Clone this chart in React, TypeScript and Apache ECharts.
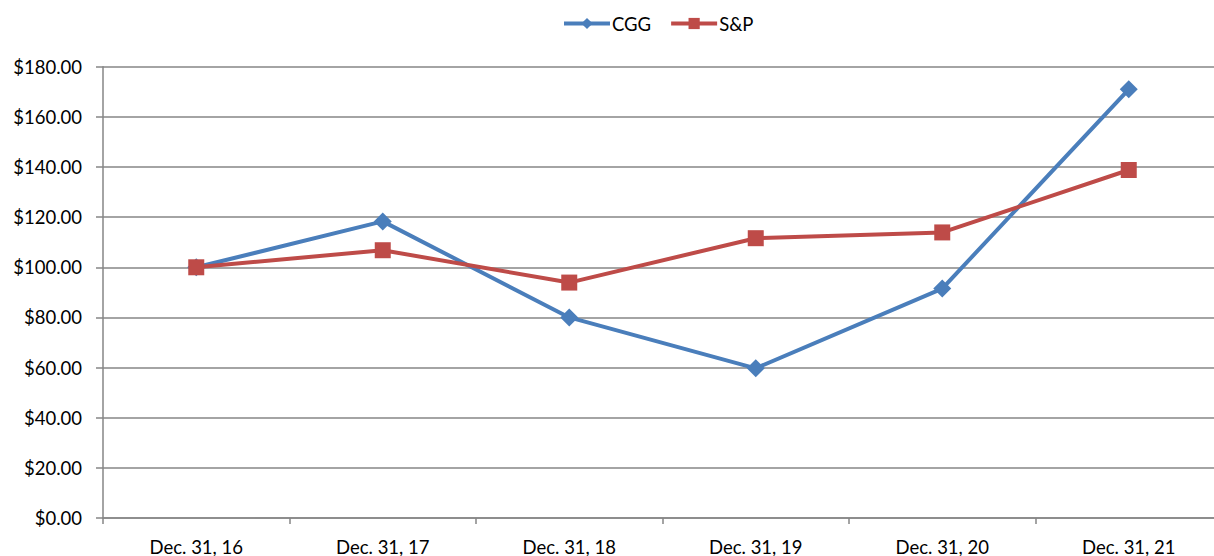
import React, { useEffect, useRef } from "react";
import * as echarts from "echarts";

const categories = ["Dec. 31, 16", "Dec. 31, 17", "Dec. 31, 18", "Dec. 31, 19", "Dec. 31, 20", "Dec. 31, 21"];
const cggValues = [100, 118.3, 80, 59.7, 91.5, 171];
const spValues = [100, 106.8, 93.9, 111.6, 113.9, 138.8];
const yMin = 0;
const yMax = 180;
const yInterval = 20;

const FONT = "Lato, 'Open Sans', sans-serif";

export default function App() {
  const ref = useRef<HTMLDivElement>(null);
  useEffect(() => {
    if (!ref.current) return;
    const chart = echarts.init(ref.current, undefined, { renderer: "svg" });
    chart.setOption({
      animation: false,
      backgroundColor: "#ffffff",
      textStyle: { fontFamily: FONT },
      legend: {
        top: 14,
        left: 562,
        padding: 0,
        itemWidth: 46,
        itemHeight: 14,
        itemGap: 18,
        lineStyle: { width: 4 },
        textStyle: { fontSize: 18.5, color: "#000000", fontFamily: FONT, padding: [0, 0, 0, -3] },
        data: ["CGG", "S&P"],
      },
      grid: { left: 103, width: 1119, top: 66.7, bottom: 38, outerBoundsMode: "none", containLabel: false },
      xAxis: {
        type: "category",
        data: categories,
        boundaryGap: true,
        axisLine: { lineStyle: { color: "#868686", width: 1.5 } },
        axisTick: { show: true, length: 6, lineStyle: { color: "#868686", width: 1.5 } },
        axisLabel: { fontSize: 18.5, color: "#000000", margin: 19, fontFamily: FONT },
      },
      yAxis: {
        type: "value",
        min: yMin,
        max: yMax,
        interval: yInterval,
        axisLine: { show: true, lineStyle: { color: "#868686", width: 1.5 } },
        axisTick: { show: true, length: 7, lineStyle: { color: "#868686", width: 1.5 } },
        splitLine: { lineStyle: { color: "#868686", width: 1.5 } },
        axisLabel: {
          fontSize: 18.5,
          color: "#000000",
          margin: 21,
          fontFamily: FONT,
          formatter: (v: number) => "$" + v.toFixed(2),
        },
      },
      series: [
        {
          name: "CGG",
          type: "line",
          data: cggValues,
          symbol: "diamond",
          symbolSize: 18,
          lineStyle: { color: "#4A7EBB", width: 4 },
          itemStyle: { color: "#4A7EBB" },
          z: 3,
        },
        {
          name: "S&P",
          type: "line",
          data: spValues,
          symbol: "rect",
          symbolSize: 16,
          lineStyle: { color: "#BE4B48", width: 4 },
          itemStyle: { color: "#BE4B48" },
          z: 4,
        },
      ],
    });
    return () => chart.dispose();
  }, []);
  return (
    <div
      ref={ref}
      style={{ position: "fixed", left: 0, top: 0, width: 1214, height: 556, background: "#fff" }}
    />
  );
}
